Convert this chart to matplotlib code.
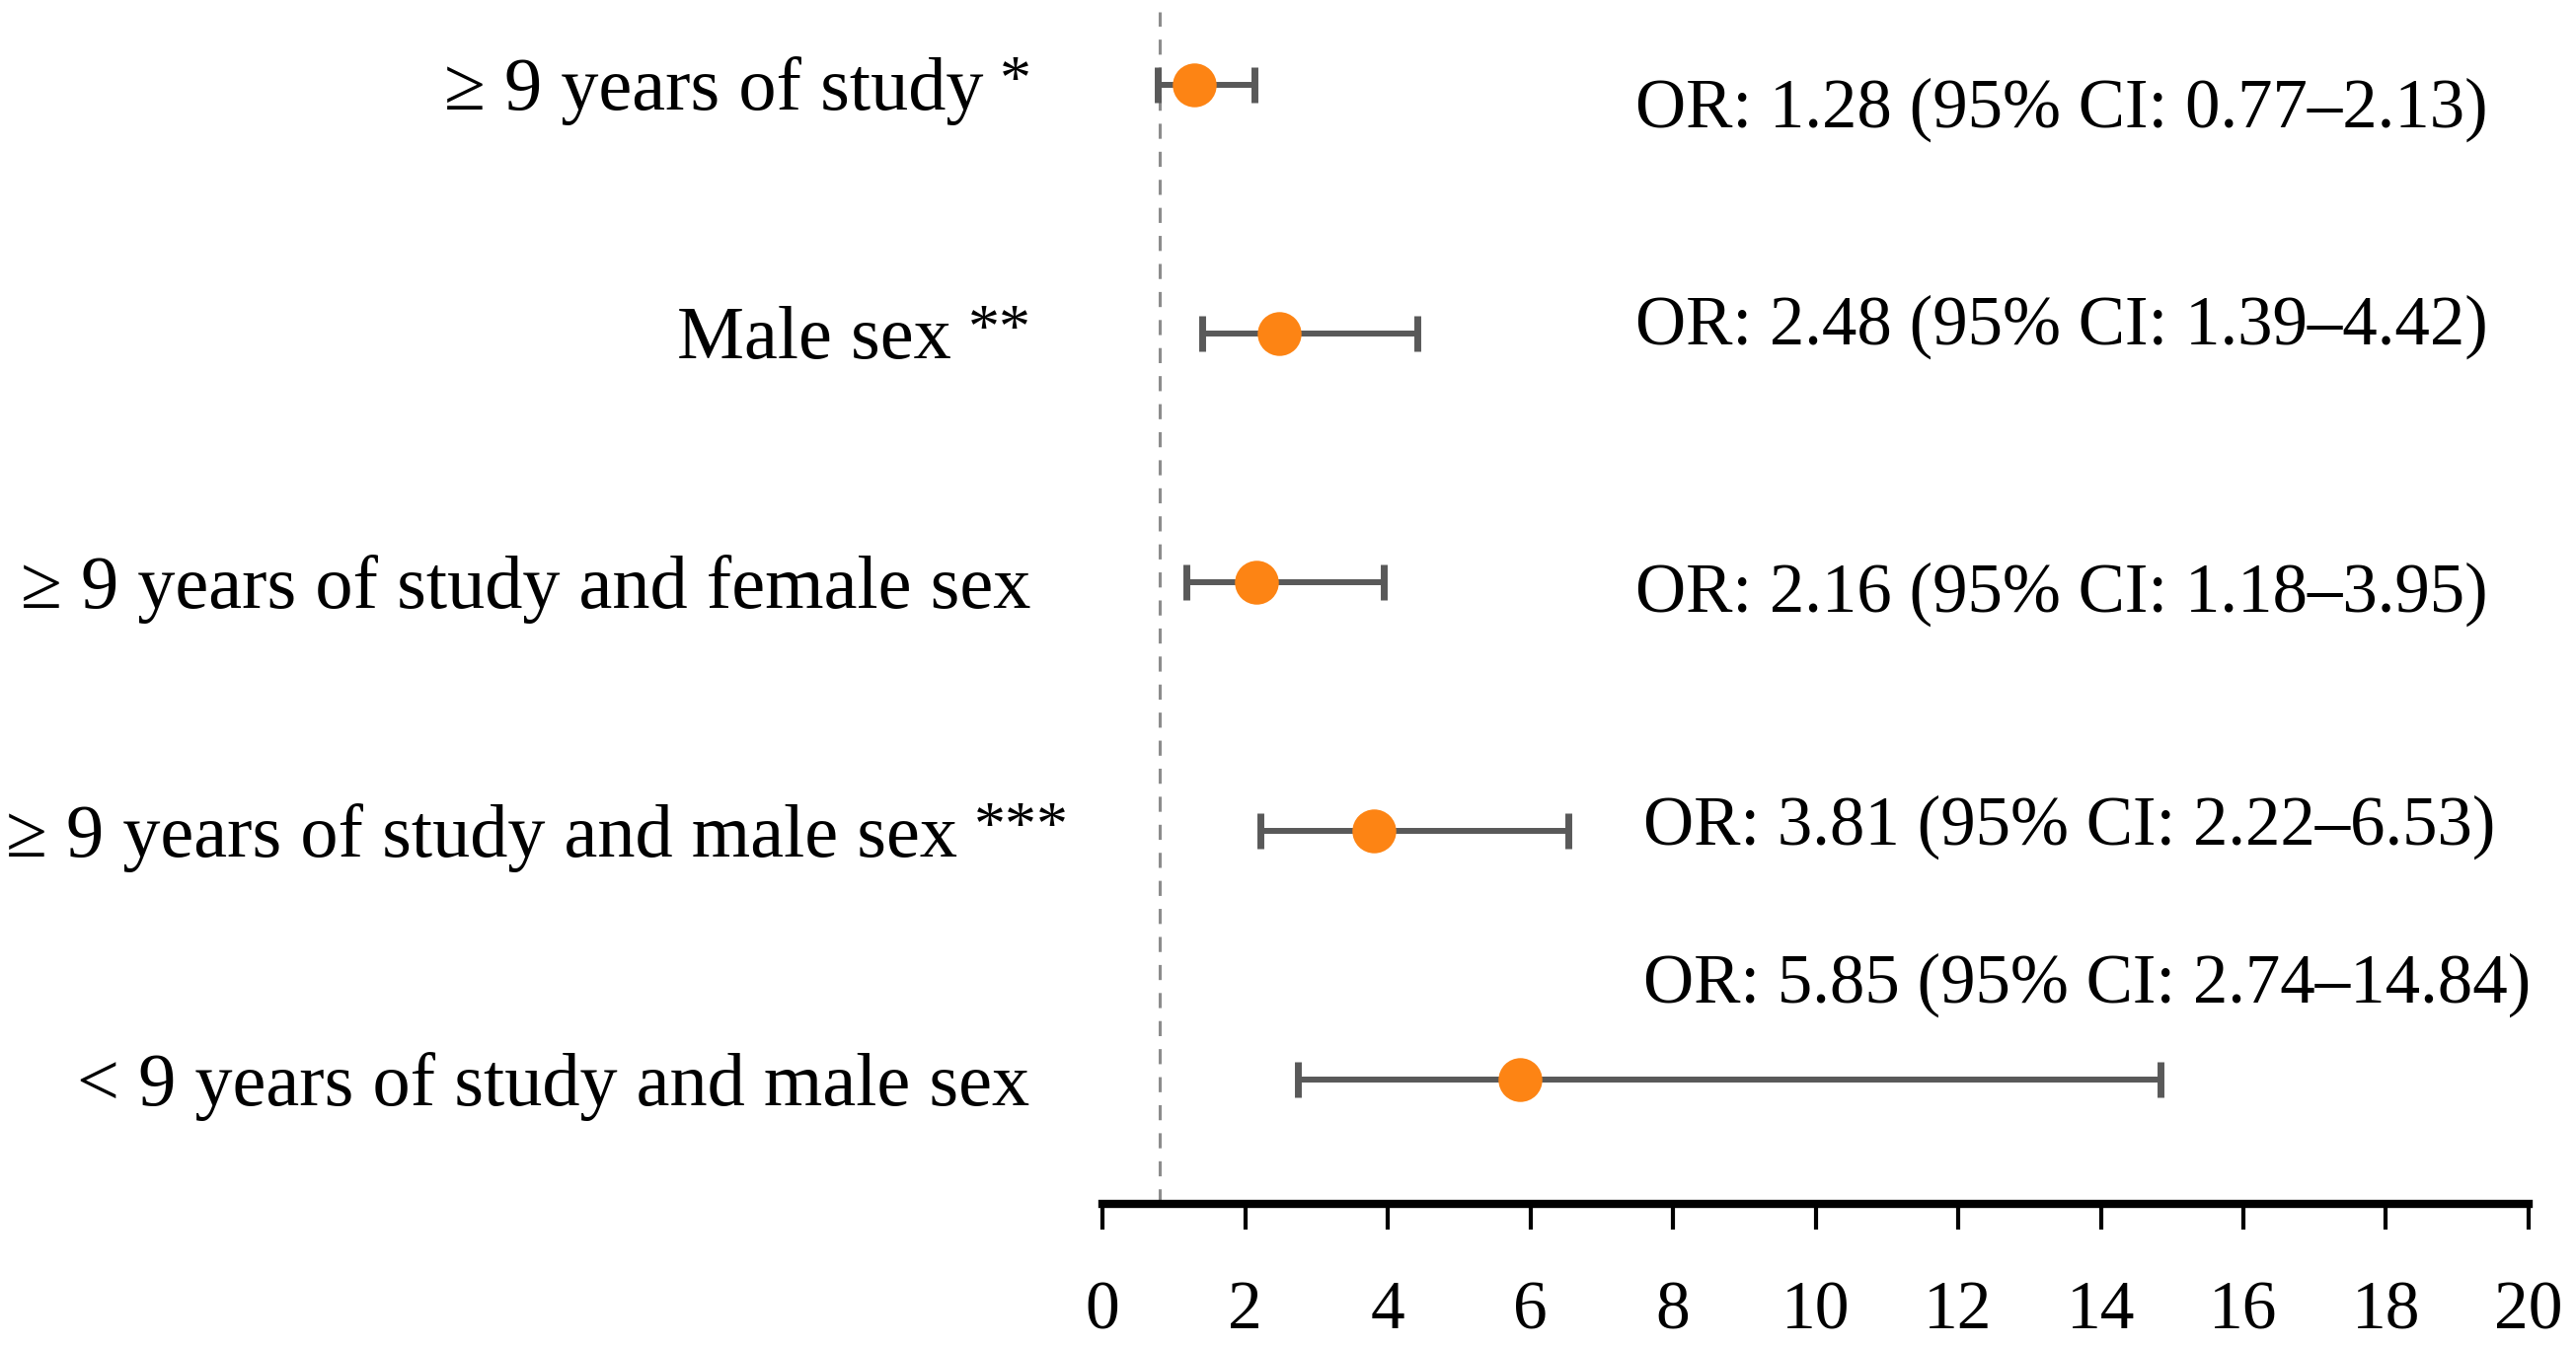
import matplotlib
matplotlib.use("Agg")
import matplotlib.pyplot as plt
import numpy as np

plt.rcParams['font.family'] = ['Liberation Serif', 'DejaVu Serif']

# 데이터
labels = ["≥ 9 years of study", "Male sex", "≥ 9 years of study and female sex",
          "≥ 9 years of study and male sex", "< 9 years of study and male sex"]
stars = ["*", "**", "", "***", ""]
odds = [1.28, 2.48, 2.16, 3.81, 5.85]
ci_low = [0.77, 1.39, 1.18, 2.22, 2.74]
ci_high = [2.13, 4.42, 3.95, 6.53, 14.84]
ref_value = 0.8
x_ticks = [0, 2, 4, 6, 8, 10, 12, 14, 16, 18, 20]

# 행 위치 (위에서 아래로)
rows = np.array([4.5, 3.5, 2.5, 1.5, 0.5])
# 왼쪽 라벨 오른쪽 끝 / OR 텍스트 위치
label_right = [-1.0, -1.0, -1.0, -0.47, -1.02]
or_x = [7.47, 7.47, 7.47, 7.58, 7.58]
or_y = [4.425, 3.55, 2.476, 1.54, 0.905]

odds_arr = np.array(odds)
xerr = [odds_arr - np.array(ci_low), np.array(ci_high) - odds_arr]

fig = plt.figure(figsize=(26.1, 13.64), dpi=100)
ax = fig.add_axes([0.428, 0.1056, 0.5536, 0.8944])

# 기준선
ax.axvline(ref_value, ymax=0.99, color='#8c8c8c', lw=2.2,
           linestyle=(0, (5, 4.3)), zorder=1)

# 신뢰구간 + 점
ax.errorbar(odds, rows, xerr=xerr, fmt='none', ecolor='#595959',
            elinewidth=4.3, capsize=13, capthick=5, zorder=2)
ax.plot(odds, rows, 'o', color='#FD8414', markersize=32,
        markeredgewidth=0, zorder=3)

# 왼쪽 라벨 (별표는 작게, 위로)
label_size = 55
for lab, st, y, xr in zip(labels, stars, rows, label_right):
    if st:
        star_txt = ax.annotate(st, xy=(xr, y), xytext=(0, -10),
                               textcoords='offset points', ha='right',
                               va='baseline', fontsize=46, annotation_clip=False)
        ax.annotate(lab, xy=(0, y), xycoords=(star_txt, 'data'),
                    xytext=(-12, -18.5), textcoords='offset points',
                    ha='right', va='baseline', fontsize=label_size,
                    annotation_clip=False)
    else:
        ax.annotate(lab, xy=(xr, y), xytext=(0, -18.5),
                    textcoords='offset points', ha='right', va='baseline',
                    fontsize=label_size, annotation_clip=False)

# OR 텍스트
for o, l, h, x, y in zip(odds, ci_low, ci_high, or_x, or_y):
    ax.annotate(f"OR: {o:.2f} (95% CI: {l:.2f}–{h:.2f})", xy=(x, y),
                xytext=(0, -17), textcoords='offset points',
                ha='left', va='baseline', fontsize=51, annotation_clip=False)

ax.set_xlim(0, 20)
ax.set_ylim(0, 4.84)
ax.set_xticks(x_ticks)
ax.set_yticks([])
for s in ['left', 'top', 'right']:
    ax.spines[s].set_visible(False)
ax.spines['bottom'].set_linewidth(6)
ax.tick_params(axis='x', direction='out', length=19, width=3,
               pad=37, labelsize=50)

fig.savefig("out.png", dpi=100)
